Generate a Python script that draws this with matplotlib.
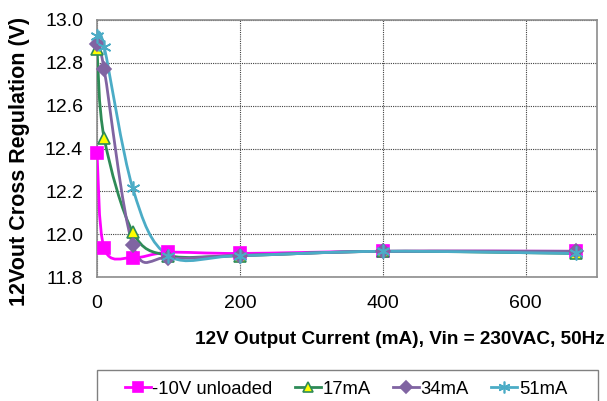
import numpy as np
import matplotlib
matplotlib.use("Agg")
import matplotlib.pyplot as plt
from matplotlib.path import Path
from matplotlib.patches import PathPatch, Rectangle
from matplotlib.lines import Line2D

plt.rcParams['font.family'] = ['Liberation Sans', 'DejaVu Sans']

current_ma = [0, 10, 50, 100, 200, 400, 670]
v_unloaded = [12.38, 11.935, 11.89, 11.915, 11.91, 11.92, 11.92]
v_17ma = [12.865, 12.45, 12.01, 11.90, 11.90, 11.92, 11.91]
v_34ma = [12.89, 12.77, 11.95, 11.89, 11.90, 11.92, 11.92]
v_51ma = [12.925, 12.875, 12.215, 11.90, 11.90, 11.92, 11.91]

series_labels = ['-10V unloaded', '17mA', '34mA', '51mA']
x_ticks = [0, 200, 400, 600]
y_ticks = [11.8, 12.0, 12.2, 12.4, 12.6, 12.8, 13.0]

styles = [
    dict(color='#FF00FF', marker='s', mfc='#FF00FF', mec='#FF00FF', ms=8.5),
    dict(color='#2E8B57', marker='^', mfc='#FFFF00', mec='#2E8B57', ms=8.5),
    dict(color='#8064A2', marker='D', mfc='#8064A2', mec='#8064A2', ms=7),
    dict(color='#4BACC6', marker=(6, 2, 0), mfc='none', mec='#4BACC6', ms=10),
]


def smooth_path(xs, ys):
    """Catmull-Rom style cubic Bezier through the points (Excel-like smoothing)."""
    pts = np.column_stack([xs, ys]).astype(float)
    n = len(pts)
    verts = [pts[0]]
    codes = [Path.MOVETO]
    for i in range(n - 1):
        p0 = pts[i - 1] if i > 0 else pts[i]
        p1 = pts[i]
        p2 = pts[i + 1]
        p3 = pts[i + 2] if i + 2 < n else pts[i + 1]
        c1 = p1 + (p2 - p0) / 6.0
        c2 = p2 - (p3 - p1) / 6.0
        verts += [c1, c2, p2]
        codes += [Path.CURVE4] * 3
    return Path(verts, codes)


fig = plt.figure(figsize=(6.07, 4.01), dpi=100)
ax = fig.add_axes([97 / 607, 124 / 401, 500 / 607, 257 / 401])

all_series = [v_unloaded, v_17ma, v_34ma, v_51ma]
for ys, st in zip(all_series, styles):
    patch = PathPatch(smooth_path(current_ma, ys), facecolor='none',
                      edgecolor=st['color'], lw=2.0, zorder=3)
    ax.add_patch(patch)
    ax.plot(current_ma, ys, linestyle='none', marker=st['marker'],
            mfc=st['mfc'], mec=st['mec'], ms=st['ms'], mew=1.2, zorder=4,
            clip_on=False)

ax.set_xlim(0, 700)
ax.set_ylim(11.8, 13.0)
ax.set_xticks(x_ticks)
ax.set_yticks(y_ticks)
ax.set_yticklabels([f'{v:.1f}' for v in y_ticks])
ax.tick_params(length=0, labelsize=14, colors='#000000')
ax.tick_params(axis='y', pad=10)
ax.tick_params(axis='x', pad=13)
ax.grid(True, color='#404040', linestyle=(0, (1, 1)), linewidth=0.8)
ax.set_axisbelow(True)
for s in ax.spines.values():
    s.set_color('#8C8C8C')
    s.set_linewidth(1.2)

fig.text(20 / 607, 1 - 161 / 401, '12Vout Cross Regulation (V)', rotation=90,
         ha='center', va='center', fontsize=15.5, fontweight='bold')
fig.text(605 / 607, 1 - 340 / 401, '12V Output Current (mA), Vin = 230VAC, 50Hz',
         ha='right', va='center', fontsize=13.7, fontweight='bold')

# legend box at the bottom
fig.patches.append(Rectangle((97 / 607, -10 / 401), 501 / 607, 41 / 401,
                             transform=fig.transFigure, facecolor='white',
                             edgecolor='#808080', lw=1.0, zorder=0))
handles = [Line2D([], [], color=st['color'], lw=2.0, marker=st['marker'],
                  mfc=st['mfc'], mec=st['mec'], ms=st['ms'] * 0.85, mew=1.2)
           for st in styles]
leg = fig.legend(handles, series_labels, loc='center', ncol=4,
                 bbox_to_anchor=(346 / 607, 1 - 389 / 401), frameon=False,
                 fontsize=13.3, handlelength=1.4, handletextpad=0.1,
                 columnspacing=1.2)
leg.set_zorder(5)

fig.savefig('out.png', dpi=100)
